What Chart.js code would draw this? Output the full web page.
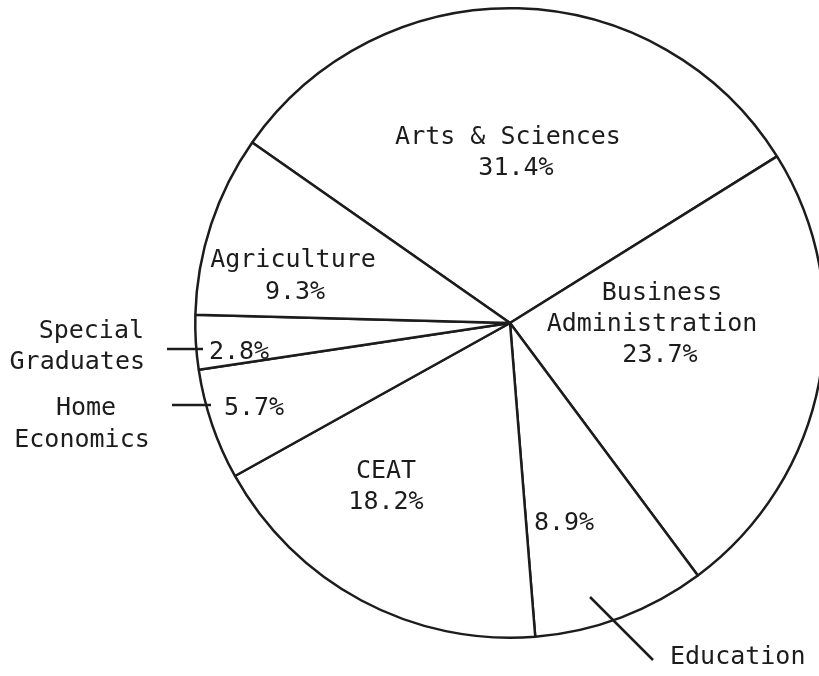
<!DOCTYPE html>
<html>
<head>
<meta charset="utf-8">
<script src="https://cdn.jsdelivr.net/npm/chart.js@4"></script>
<style>
    html, body { margin: 0; padding: 0; background: #fff; overflow: hidden; }
    #wrap { width: 819px; height: 676px; overflow: hidden; position: relative; }
    canvas { display: block; }
</style>
</head>
<body>
<div id="wrap"><canvas id="pie" width="1020" height="676"></canvas></div>
<script>
// enrollment share by college, clockwise from the top
const categories = ['Arts & Sciences', 'Business Administration', 'Education', 'CEAT', 'Home Economics', 'Special Graduates', 'Agriculture'];
const shares = [31.4, 23.7, 8.9, 18.2, 5.7, 2.8, 9.3];
const nameLines = [['Arts & Sciences'], ['Business', 'Administration'], ['Education'], ['CEAT'], ['Home', 'Economics'], ['Special', 'Graduates'], ['Agriculture']];

const ink = '#1c1c1c';
const font = '25px "DejaVu Sans Mono"';

// where each label goes, as offsets from the pie centre (px)
const placement = [
    { name: [[-2, -186]], pct: [6, -155] },
    { name: [[152, -30], [142, 1]], pct: [150, 32] },
    { name: [[160, 334]], nameAlign: 'left', pct: [54, 200], leader: [80, 274, 143, 337] },
    { name: [[-124, 148]], pct: [-124, 179] },
    { name: [[-424, 85], [-428, 117]], pct: [-256, 85], leader: [-338, 82, -299, 82] },
    { name: [[-366, 8], [-365, 39]], nameAlign: 'right', pct: [-271, 29], leader: [-343, 26, -307, 26] },
    { name: [[-217, -63]], pct: [-215, -31] }
];

const labelPlugin = {
    id: 'labels',
    afterDraw(chart) {
        const arc = chart.getDatasetMeta(0).data[0];
        const cx = arc.x, cy = arc.y;
        const ctx = chart.ctx;
        ctx.save();
        ctx.fillStyle = ink;
        ctx.strokeStyle = ink;
        ctx.lineWidth = 2.5;
        ctx.font = font;
        ctx.textBaseline = 'middle';
        placement.forEach((p, i) => {
            const lines = nameLines[i];
            ctx.textAlign = p.nameAlign || 'center';
            lines.forEach((txt, j) => {
                const pos = p.name[j];
                ctx.fillText(txt, cx + pos[0], cy + pos[1]);
            });
            ctx.textAlign = 'center';
            ctx.fillText(shares[i].toFixed(1) + '%', cx + p.pct[0], cy + p.pct[1]);
            if (p.leader) {
                ctx.beginPath();
                ctx.moveTo(cx + p.leader[0], cy + p.leader[1]);
                ctx.lineTo(cx + p.leader[2], cy + p.leader[3]);
                ctx.stroke();
            }
        });
        ctx.restore();
    }
};

new Chart(document.getElementById('pie'), {
    type: 'pie',
    data: {
        labels: categories,
        datasets: [{
            data: shares,
            backgroundColor: '#ffffff',
            borderColor: ink,
            borderWidth: 2.5
        }]
    },
    options: {
        responsive: false,
        animation: false,
        rotation: -55,
        layout: { padding: { top: 7, bottom: 37, left: 0, right: 0 } },
        plugins: {
            legend: { display: false },
            tooltip: { enabled: false }
        }
    },
    plugins: [labelPlugin]
});
</script>
</body>
</html>
